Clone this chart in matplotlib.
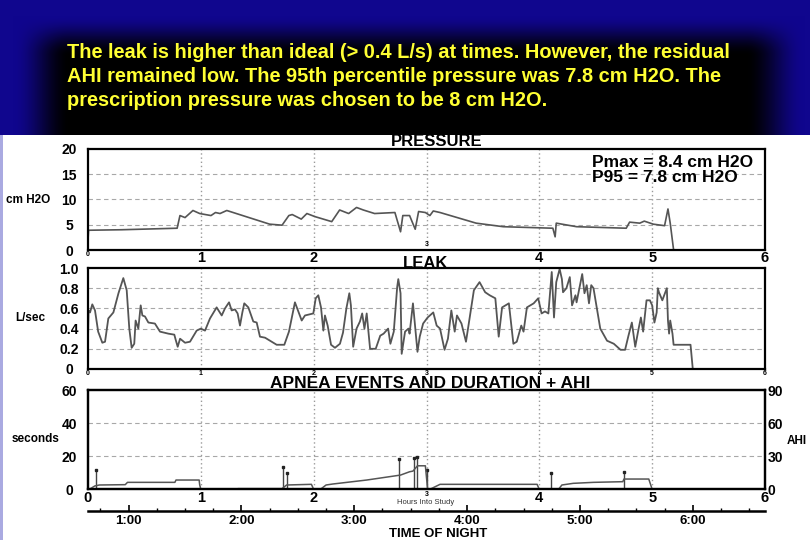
import numpy as np
import matplotlib.pyplot as plt
from matplotlib.ticker import MultipleLocator

plt.rcParams['font.family'] = ['Liberation Sans', 'DejaVu Sans']

# ---- values ----
hours = [0, 1, 2, 3, 4, 5, 6]

press_h = [0, 0.005, 0.3, 0.79, 0.815, 0.86, 0.93, 0.99, 1.09, 1.13, 1.17, 1.23,
           1.61, 1.72, 1.78, 1.81, 1.89, 1.94, 2.01, 2.16, 2.23, 2.31, 2.38, 2.44,
           2.54, 2.72, 2.77, 2.79, 2.85, 2.90, 2.93, 2.99, 3.03, 3.06, 3.12, 3.44,
           3.68, 4.12, 4.14, 4.15, 4.33, 4.77, 4.80, 4.89, 4.93, 5.01, 5.11, 5.14,
           5.16, 5.19]
press_cm = [2.0, 3.9, 4.0, 4.3, 6.8, 6.4, 7.8, 7.2, 6.8, 7.4, 7.2, 7.8,
            5.1, 4.9, 6.8, 7.0, 6.1, 7.2, 6.6, 5.6, 7.9, 7.2, 8.4, 7.9,
            7.2, 7.4, 3.6, 6.8, 6.8, 4.1, 7.6, 7.4, 6.8, 7.7, 7.4, 5.3,
            4.6, 4.3, 2.6, 5.3, 4.6, 4.3, 5.5, 5.3, 5.7, 5.1, 4.8, 8.1,
            5.3, 0.0]

leak_h = [0, 0.005, 0.018, 0.038, 0.062, 0.09, 0.127, 0.151, 0.18, 0.225, 0.27,
          0.313, 0.343, 0.366, 0.387, 0.41, 0.422, 0.446, 0.467, 0.482, 0.505,
          0.535, 0.593, 0.638, 0.712, 0.765, 0.777, 0.795, 0.816, 0.86, 0.904,
          0.963, 1.0, 1.037, 1.081, 1.14, 1.185, 1.214, 1.25, 1.273, 1.303, 1.326,
          1.347, 1.368, 1.385, 1.421, 1.465, 1.495, 1.524, 1.569, 1.628, 1.672,
          1.74, 1.781, 1.834, 1.894, 1.923, 1.959, 1.997, 2.018, 2.041, 2.065,
          2.086, 2.1, 2.124, 2.154, 2.189, 2.233, 2.26, 2.29, 2.316, 2.33, 2.35,
          2.38, 2.41, 2.43, 2.45, 2.47, 2.50, 2.55, 2.59, 2.62, 2.66, 2.68, 2.71,
          2.74, 2.75, 2.77, 2.78, 2.81, 2.84, 2.85, 2.88, 2.89, 2.92, 2.94, 2.97,
          3.01, 3.06, 3.09, 3.12, 3.16, 3.19, 3.22, 3.25, 3.27, 3.31, 3.35, 3.39,
          3.42, 3.47, 3.52, 3.56, 3.61, 3.64, 3.67, 3.73, 3.77, 3.80, 3.84, 3.86,
          3.89, 3.95, 3.99, 4.02, 4.05, 4.08, 4.11, 4.13, 4.15, 4.18, 4.20, 4.21,
          4.24, 4.27, 4.29, 4.32, 4.33, 4.38, 4.40, 4.42, 4.44, 4.46, 4.48, 4.51,
          4.54, 4.60, 4.66, 4.72, 4.76, 4.79, 4.82, 4.85, 4.88, 4.90, 4.92, 4.95,
          4.98, 5.00, 5.02, 5.04, 5.05, 5.06, 5.09, 5.13, 5.14, 5.15, 5.16, 5.18,
          5.19, 5.34, 5.36]
leak_ls = [0.30, 0.58, 0.56, 0.64, 0.58, 0.37, 0.26, 0.27, 0.50, 0.56, 0.75,
           0.90, 0.78, 0.40, 0.21, 0.25, 0.48, 0.40, 0.63, 0.53, 0.52,
           0.46, 0.45, 0.37, 0.35, 0.34, 0.29, 0.22, 0.30, 0.26, 0.27,
           0.38, 0.40, 0.38, 0.50, 0.61, 0.53, 0.60, 0.66, 0.58, 0.59, 0.55,
           0.43, 0.56, 0.65, 0.61, 0.47, 0.46, 0.32, 0.31, 0.27, 0.24,
           0.24, 0.37, 0.66, 0.48, 0.53, 0.54, 0.55, 0.70, 0.73, 0.61,
           0.38, 0.53, 0.43, 0.24, 0.21, 0.25, 0.36, 0.60, 0.75, 0.63, 0.22,
           0.40, 0.47, 0.55, 0.40, 0.55, 0.20, 0.20, 0.33, 0.35, 0.40, 0.25, 0.37,
           0.81, 0.89, 0.75, 0.15, 0.37, 0.40, 0.35, 0.65, 0.53, 0.17, 0.32, 0.45,
           0.51, 0.56, 0.43, 0.40, 0.19, 0.30, 0.58, 0.37, 0.53, 0.45, 0.27, 0.56,
           0.78, 0.86, 0.76, 0.73, 0.70, 0.32, 0.61, 0.65, 0.25, 0.27, 0.43, 0.37,
           0.61, 0.65, 0.70, 0.55, 0.57, 0.55, 0.96, 0.51, 0.86, 0.99, 0.89, 0.76,
           0.80, 0.91, 0.63, 0.73, 0.66, 0.94, 0.75, 0.83, 0.65, 0.83, 0.80, 0.60,
           0.40, 0.28, 0.25, 0.19, 0.19, 0.33, 0.46, 0.22, 0.40, 0.51, 0.37, 0.68,
           0.68, 0.63, 0.46, 0.56, 0.80, 0.76, 0.68, 0.80, 0.48, 0.35, 0.48, 0.35,
           0.24, 0.24, 0.0]

ahi_h = [0, 0.02, 0.06, 0.1, 0.33, 0.35, 0.77, 0.78, 0.985, 0.99, 1.0, 1.32,
         1.33, 1.72, 1.76, 1.98, 2.0, 2.06, 2.11, 2.17, 2.47, 2.77, 2.85, 2.88,
         2.92, 2.99, 3.01, 3.03, 3.12, 3.98, 4.0, 4.17, 4.2, 4.3, 4.48, 4.74,
         4.75, 4.97, 5.0]
ahi_val = [0, 0.5, 3.0, 3.9, 4.2, 6.3, 6.3, 8.4, 8.4, 4.0, 0, 0,
           0.6, 0.6, 3.9, 4.5, 0, 0, 3.9, 4.8, 8.4, 12.9, 15.9, 16.5,
           21.3, 21.3, 0, 0, 4.5, 4.5, 0, 0, 3.9, 5.4, 6.3, 6.9,
           9.3, 9.3, 0]

apnea_h = [0.071, 1.725, 1.76, 2.76, 2.89, 2.92, 3.0, 4.10, 4.75]
apnea_sec = [11.6, 13.6, 9.6, 18.6, 19.0, 19.6, 11.6, 9.6, 10.6]

press_ticks = [0, 5, 10, 15, 20]
leak_ticks = [0, 0.2, 0.4, 0.6, 0.8, 1.0]
leak_labels = ['0', '0.2', '0.4', '0.6', '0.8', '1.0']
sec_ticks = [0, 20, 40, 60]
ahi_ticks = [0, 30, 60, 90]
clock_hours = [1, 2, 3, 4, 5, 6]
study_start = 0.64   # clock time (h) at hour 0 of the study

note = ["The leak is higher than ideal (> 0.4 L/s) at times. However, the residual",
        "AHI remained low. The 95th percentile pressure was 7.8 cm H2O. The",
        "prescription pressure was chosen to be 8 cm H2O."]

W, H = 810, 540
fig = plt.figure(figsize=(W / 100, H / 100), dpi=100)


def box(l, t, r, b):
    return [l / W, 1 - b / H, (r - l) / W, (b - t) / H]


def ramp(v, a, b):
    t = np.clip((v - a) / (b - a), 0, 1)
    return t * t * (3 - 2 * t)


# slide background: blue with a dark band behind the text, white chart panel
yy, xx = np.mgrid[0:H, 0:W]
dark = ramp(yy, 15, 55) * ramp(xx, 12, 70) * (1 - ramp(xx, 745, 805))
blue = np.array([16, 6, 142]) / 255.0
img = blue[None, None, :] * (1 - dark)[..., None]
img[135:, :, :] = 1.0
img[135:, 0:3, :] = np.array([170, 170, 225]) / 255.0
bg = fig.add_axes([0, 0, 1, 1])
bg.imshow(img, aspect='auto', extent=(0, W, H, 0), interpolation='bilinear')
bg.axis('off')

for i, line in enumerate(note):
    fig.text(67 / W, 1 - (53 + 23.6 * i) / H, line, color='#FFFF33', fontsize=14.4,
             fontweight='bold', va='center', ha='left')

line_col = '#555555'


def style(ax, yticks, ylabels, xlabels, xsizes, xpad=1.5):
    ax.set_xlim(0, 6)
    ax.set_ylim(yticks[0], yticks[-1])
    for s in ax.spines.values():
        s.set_linewidth(1.6)
    ax.set_yticks(yticks)
    ax.set_yticklabels(ylabels, fontsize=10, fontweight='bold', ha='center')
    ax.tick_params(axis='y', length=0, pad=13.5)
    ax.set_xticks(hours)
    ax.set_xticklabels(xlabels, fontweight='bold')
    for lbl, fs in zip(ax.get_xticklabels(), xsizes):
        lbl.set_fontsize(fs)
    ax.tick_params(axis='x', length=0, pad=xpad)
    for h in hours[1:-1]:
        ax.axvline(h, color='#9a9a9a', ls=(0, (1, 2)), lw=1, zorder=0)
    for v in yticks[1:-1]:
        ax.axhline(v, color='#a8a8a8', ls=(0, (4, 3)), lw=0.8, zorder=0)


big, small = 10.5, 5
hour_labels = [str(h) for h in hours]

# pressure
ax_p = fig.add_axes(box(88, 148.7, 765, 250))
press_xlabels = [lbl if h != 3 else '' for h, lbl in zip(hours, hour_labels)]
style(ax_p, press_ticks, [str(v) for v in press_ticks], press_xlabels,
      [small, big, big, small, big, big, big], xpad=1)
# the small "3" of this row sits just above the frame line
ax_p.text(3, 0.3, '3', fontsize=small, fontweight='bold', ha='center', va='bottom')
ax_p.plot(press_h, press_cm, color=line_col, lw=1.2)
ax_p.text(0.745, 0.79, 'Pmax = 8.4 cm H2O\nP95 = 7.8 cm H2O', transform=ax_p.transAxes,
          fontsize=12.5, fontweight='bold', va='center', ha='left', linespacing=1.0)
fig.text(437 / W, 1 - 141 / H, 'PRESSURE', fontsize=12, fontweight='bold',
         ha='center', va='center')
fig.text(28 / W, 1 - 200 / H, 'cm H2O', fontsize=8.5, fontweight='bold',
         ha='center', va='center')

# leak
ax_l = fig.add_axes(box(88, 268, 765, 369))
style(ax_l, leak_ticks, leak_labels, hour_labels, [small] * 7, xpad=0.5)
ax_l.plot(leak_h, leak_ls, color=line_col, lw=1.3)
fig.text(426 / W, 1 - 263 / H, 'LEAK', fontsize=12, fontweight='bold',
         ha='center', va='center')
fig.text(30 / W, 1 - 318 / H, 'L/sec', fontsize=8.5, fontweight='bold',
         ha='center', va='center')

# apnea events and AHI
ax_a = fig.add_axes(box(88, 390, 765, 489.3))
style(ax_a, sec_ticks, [str(v) for v in sec_ticks], hour_labels,
      [big, big, big, small, big, big, big])
ax_a.vlines(apnea_h, 0, apnea_sec, color='#444444', lw=1.0)
ax_a.plot(apnea_h, apnea_sec, ls='none', marker='s', ms=2, color='#222222')
ax_r = ax_a.twinx()
ax_r.set_ylim(ahi_ticks[0], ahi_ticks[-1])
ax_r.set_yticks(ahi_ticks)
ax_r.set_yticklabels([str(v) for v in ahi_ticks], fontsize=10, fontweight='bold')
ax_r.tick_params(axis='y', length=0, pad=2)
for s in ax_r.spines.values():
    s.set_linewidth(1.6)
ax_r.plot(ahi_h, ahi_val, color=line_col, lw=1.1)
fig.text(430 / W, 1 - 383.5 / H, 'APNEA EVENTS AND DURATION + AHI', fontsize=12.5,
         fontweight='bold', ha='center', va='center')
fig.text(36 / W, 1 - 439 / H, 'seconds', fontsize=8.5, fontweight='bold',
         ha='center', va='center')
fig.text(787 / W, 1 - 441 / H, 'AHI', fontsize=8.5, fontweight='bold',
         ha='left', va='center')
fig.text(426 / W, 1 - 502 / H, 'Hours Into Study', fontsize=5.5, color='#333333',
         ha='center', va='center')

# clock-time axis
ax_t = fig.add_axes(box(88, 505, 765, 511))
ax_t.set_facecolor('none')
for k in ['top', 'left', 'right']:
    ax_t.spines[k].set_visible(False)
ax_t.spines['bottom'].set_linewidth(1.8)
ax_t.set_yticks([])
ax_t.set_xlim(study_start, study_start + 6)
ax_t.set_xticks(clock_hours)
ax_t.set_xticklabels(['%d:00' % c for c in clock_hours], fontsize=9.5, fontweight='bold')
ax_t.xaxis.set_minor_locator(MultipleLocator(0.25))
ax_t.tick_params(axis='x', which='major', direction='in', length=4, width=1.2, pad=3)
ax_t.tick_params(axis='x', which='minor', direction='in', length=2.5, width=1)
fig.text(438 / W, 1 - 534 / H, 'TIME OF NIGHT', fontsize=9.5, fontweight='bold',
         ha='center', va='center')

fig.savefig('out.png', dpi=100)
